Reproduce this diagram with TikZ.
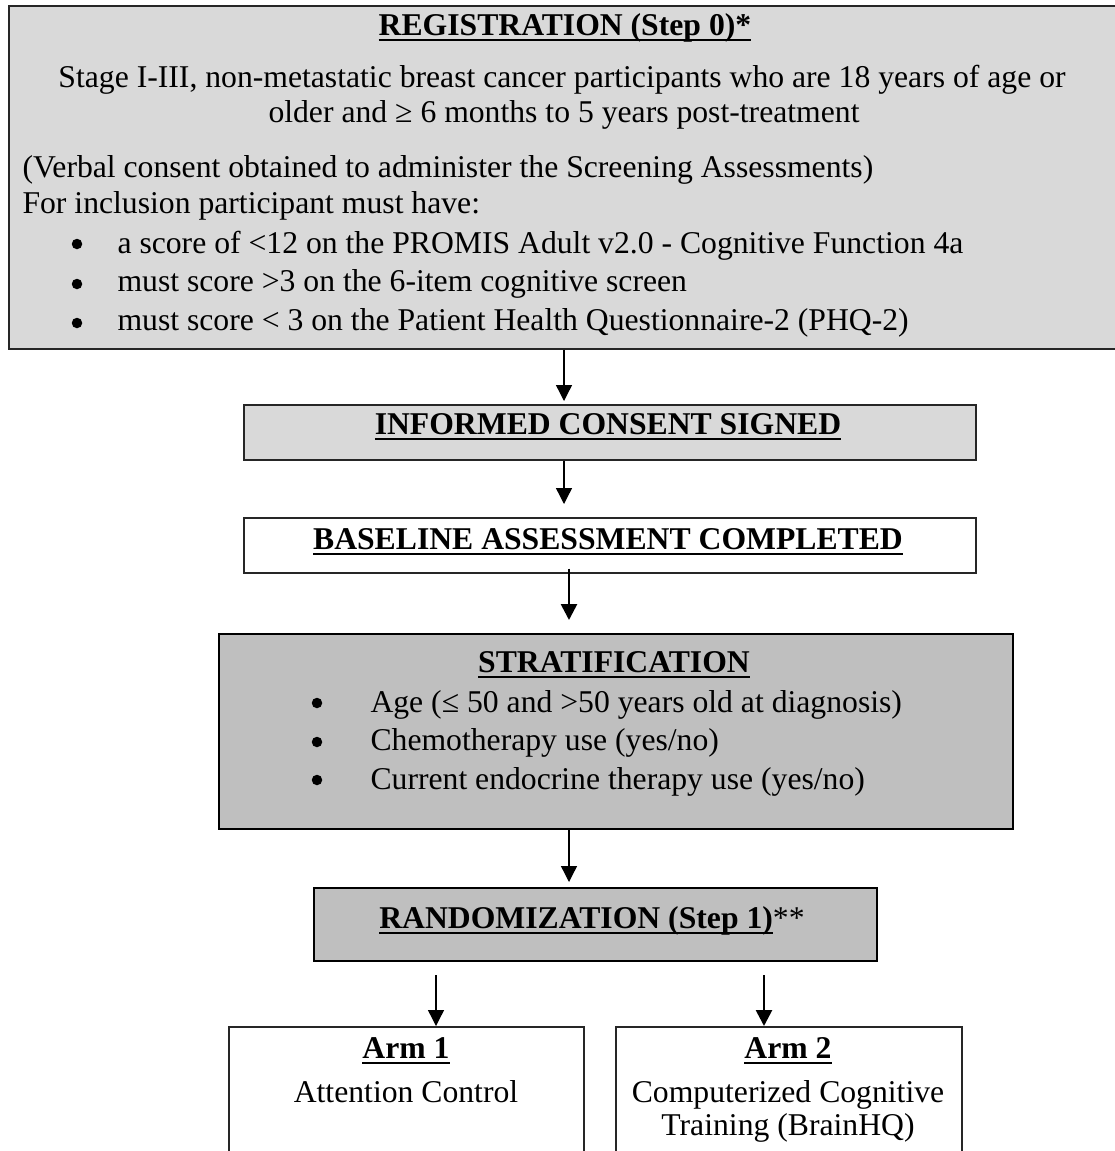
\documentclass[tikz,border=0pt]{standalone}
\usepackage{fontspec}
\setmainfont{Liberation Serif}
\usetikzlibrary{arrows.meta}
\newdimen\pxu
\pxu=0.3788pt
\definecolor{boxlight}{gray}{0.85}
\definecolor{boxdark}{gray}{0.75}
\newcommand{\ulhead}[1]{\setbox0=\hbox{\bfseries #1}\rlap{\rule[-2.3pt]{\wd0}{0.85pt}}\box0}
\tikzset{
  box/.style={draw, rectangle, anchor=north west, inner sep=0pt},
  lightbox/.style={box, fill=boxlight, draw=black!85, line width=0.6pt},
  darkbox/.style={box, fill=boxdark, draw=black, line width=0.9pt},
  whitebox/.style={box, fill=white, draw=black!85, line width=0.6pt},
  midtext/.style={inner sep=0pt, anchor=base},
  lefttext/.style={inner sep=0pt, anchor=base west},
  dot/.style={circle, fill=black, inner sep=0pt, minimum size=10.5\pxu},
  arr/.style={-{Triangle[length=6pt, width=6pt]}, line width=0.5pt},
  heavyarr/.style={arr, line width=1pt}
}

\begin{document}
\begin{tikzpicture}[x=\pxu, y=-\pxu, font=\fontsize{12pt}{14pt}\selectfont]
  \useasboundingbox (0,0) rectangle (1115,1151);

  \node[lightbox, minimum width=1111\pxu, minimum height=343\pxu] (reg) at (8,5) {};
  \node[lightbox, minimum width=732\pxu, minimum height=55\pxu] (consent) at (243,404) {};
  \node[whitebox, minimum width=732\pxu, minimum height=55\pxu] (base) at (243,517) {};
  \node[darkbox, minimum width=794\pxu, minimum height=195\pxu] (strat) at (218,633) {};
  \node[darkbox, minimum width=563\pxu, minimum height=73\pxu] (rand) at (313,887) {};
  \node[whitebox, minimum width=355\pxu, minimum height=140\pxu] (arm1) at (228,1026) {};
  \node[whitebox, minimum width=346\pxu, minimum height=140\pxu] (arm2) at (615,1026) {};

  % registration
  \node[midtext] (regtitle) at (565,35) {\ulhead{REGISTRATION (Step 0)*}};
  \node[midtext] (regstage) at (562,87) {Stage I-III, non-metastatic breast cancer participants who are 18 years of age or};
  \node[midtext] (regolder) at (564,122) {older and ≥ 6 months to 5 years post-treatment};
  \node[lefttext] (regverbal) at (22,177) {(Verbal consent obtained to administer the Screening Assessments)};
  \node[lefttext] (regincl) at (22,213) {For inclusion participant must have:};
  \node[dot] (regdotA) at (77,244) {};
  \node[lefttext] (regitemA) at (117,253) {a score of <12 on the PROMIS Adult v2.0 - Cognitive Function 4a};
  \node[dot] (regdotB) at (77,284) {};
  \node[lefttext] (regitemB) at (117,291) {must score >3 on the 6-item cognitive screen};
  \node[dot] (regdotC) at (77,323) {};
  \node[lefttext] (regitemC) at (117,330) {must score < 3 on the Patient Health Questionnaire-2 (PHQ-2)};

  \node[midtext] (consenttitle) at (608,434) {\ulhead{INFORMED CONSENT SIGNED}};
  \node[midtext] (basetitle) at (608,549) {\ulhead{BASELINE ASSESSMENT COMPLETED}};

  % stratification
  \node[midtext] (strattitle) at (614,672) {\ulhead{STRATIFICATION}};
  \node[dot] (stratdotA) at (317,703) {};
  \node[lefttext] (stratage) at (370,712) {Age (≤ 50 and >50 years old at diagnosis)};
  \node[dot] (stratdotB) at (317,742) {};
  \node[lefttext] (stratchemo) at (370,750) {Chemotherapy use (yes/no)};
  \node[dot] (stratdotC) at (317,780) {};
  \node[lefttext] (stratendo) at (370,789) {Current endocrine therapy use (yes/no)};

  \node[midtext] (randtitle) at (592,928) {\ulhead{RANDOMIZATION (Step 1)}**};

  % arms
  \node[midtext] (armAtitle) at (406,1058) {\ulhead{Arm 1}};
  \node[midtext] (armAtext) at (406,1102) {Attention Control};
  \node[midtext] (armBtitle) at (788,1058) {\ulhead{Arm 2}};
  \node[midtext] (armBtextA) at (788,1102) {Computerized Cognitive};
  \node[midtext] (armBtextB) at (788,1135) {Training (BrainHQ)};

  \coordinate (spineA) at (564,0);
  \coordinate (spineB) at (569,0);
  \coordinate (armA) at (436,0);
  \coordinate (armB) at (764,0);
  \draw[arr, shorten >=3\pxu] (reg.south -| spineA) -- (consent.north -| spineA);
  \draw[arr, shorten >=13\pxu] (consent.south -| spineA) -- (base.north -| spineA);
  \draw[heavyarr, shorten <=-5\pxu, shorten >=13\pxu] (base.south -| spineB) -- (strat.north -| spineB);
  \draw[arr, shorten >=5\pxu] (strat.south -| spineB) -- (rand.north -| spineB);
  \draw[arr, shorten <=13\pxu] (rand.south -| armA) -- (arm1.north -| armA);
  \draw[heavyarr, shorten <=13\pxu] (rand.south -| armB) -- (arm2.north -| armB);
\end{tikzpicture}
\end{document}
